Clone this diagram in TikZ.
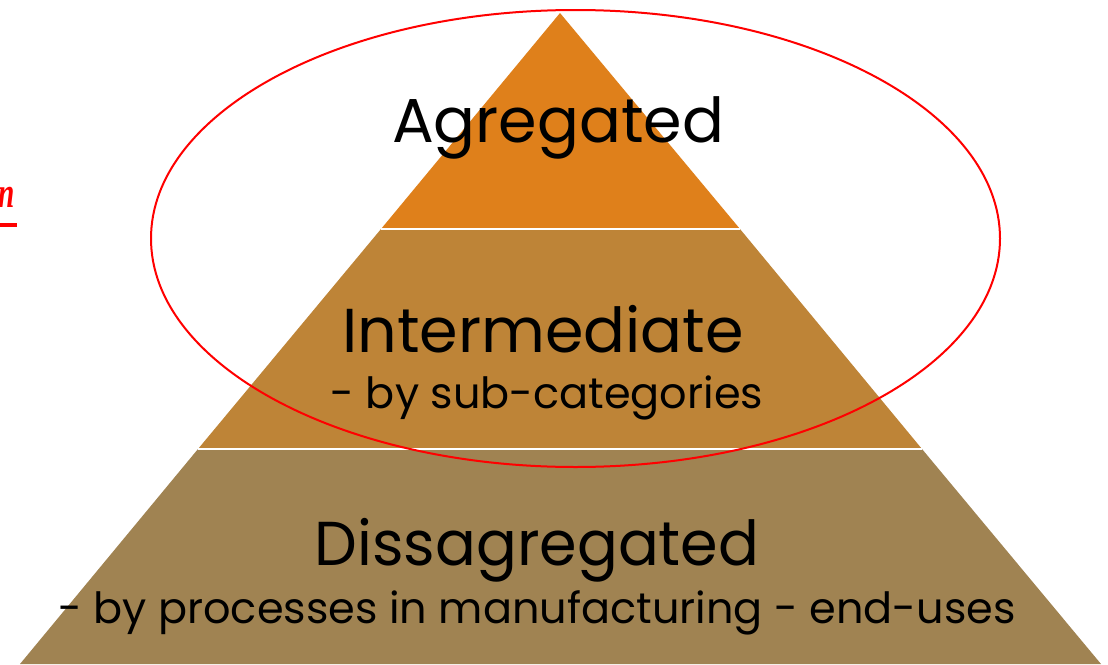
\documentclass[tikz,border=0pt]{standalone}
\usepackage{fontspec}
\usetikzlibrary{shapes.geometric}
\setmainfont{Poppins}
\newfontfamily\capfont{Liberation Serif}
\begin{document}
\begin{tikzpicture}[x=1pt,y=-1pt,
  big/.style={anchor=base,inner sep=0pt,font=\fontsize{62}{62}\selectfont},
  small/.style={anchor=base,inner sep=0pt,font=\fontsize{43}{43}\selectfont}]
\useasboundingbox (0,0) rectangle (1108,664);
\definecolor{topc}{RGB}{223,128,27}
\definecolor{midc}{RGB}{190,132,55}
\definecolor{botc}{RGB}{160,131,82}
\coordinate (apex) at (560,13);
\coordinate (l1) at (381,229);
\coordinate (r1) at (740,229);
\coordinate (l2) at (198,449);
\coordinate (r2) at (922,449);
\coordinate (l3) at (20,664);
\coordinate (r3) at (1101,664);
\fill[botc] (l2) -- (r2) -- (r3) -- (l3) -- cycle;
\fill[midc] (l1) -- (r1) -- (r2) -- (l2) -- cycle;
\fill[topc] (apex) -- (r1) -- (l1) -- cycle;
\draw[white,line width=2pt] (l1) -- (r1);
\draw[white,line width=2pt] (l2) -- (r2);
\node[big] (agg) at (558,142) {Agregated};
\node[big] (int) at (543,352) {Intermediate};
\node[small] (sub) at (547,408) {- by sub-categories};
\node[big] (dis) at (537,565) {\scalebox{0.975}[1]{Dissagregated}};
\node[small] (proc) at (537,623) {- by processes in manufacturing - end-uses};
\node[draw=red,line width=2pt,ellipse,minimum width=849pt,minimum height=457pt,inner sep=0pt] (ell) at (575.5,238.5) {};
\node[anchor=base west,inner sep=0pt,text=red,font=\capfont\bfseries\itshape\fontsize{43}{43}\selectfont] (frag) at (-2,207) {\scalebox{0.68}[1]{n}};
\fill[red] (0,223) rectangle (17,227);
\end{tikzpicture}
\end{document}
